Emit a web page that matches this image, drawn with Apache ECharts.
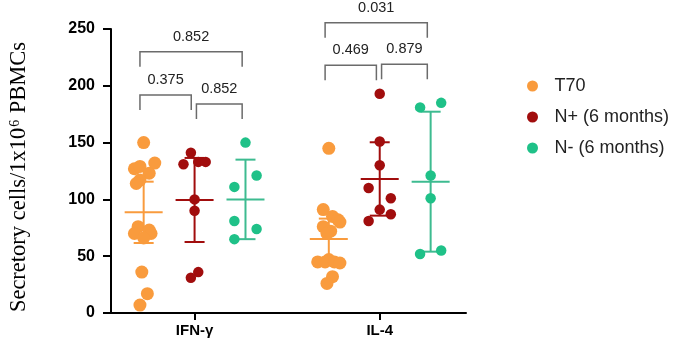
<!DOCTYPE html>
<html>
<head>
<meta charset="utf-8">
<script src="https://cdn.jsdelivr.net/npm/echarts@6/dist/echarts.min.js"></script>
<style>
  html, body { margin: 0; padding: 0; background: #fff; }
  #chart { width: 677px; height: 346px; }
</style>
</head>
<body>
<div id="chart"></div>
<script>
  // categories / groups
  const groups = ['IFN-γ', 'IL-4'];
  const seriesNames = ['T70', 'N+ (6 months)', 'N- (6 months)'];
  const yTicks = [0, 50, 100, 150, 200, 250];

  // individual values (jitter = horizontal spread, in group units)
  const t70Ifn = [150, 127, 129, 132, 123, 117, 114, 76, 73, 70, 70, 66, 36, 17, 7];
  const t70IfnJitter = [0, -0.05, -0.02, 0.06, 0.03, -0.02, -0.04, -0.03, 0.03, 0.04, -0.05, 0, -0.01, 0.02, -0.02];
  const nPosIfn = [141, 131, 133, 133, 100, 90, 36, 31];
  const nPosIfnJitter = [-0.02, -0.06, 0.02, 0.06, 0, 0, 0.02, -0.02];
  const nNegIfn = [150, 121, 111, 81, 74, 65];
  const nNegIfnJitter = [0, 0.06, -0.06, -0.06, 0.06, -0.06];

  const t70Il4 = [145, 91, 85, 82, 80, 76, 72, 70, 47, 45, 45, 45, 44, 32, 26];
  const t70Il4Jitter = [0, -0.03, 0.02, 0.05, 0.06, -0.03, 0.01, -0.01, 0, -0.06, -0.02, 0.03, 0.06, 0.02, -0.01];
  const nPosIl4 = [193, 151, 130, 110, 101, 91, 87, 81];
  const nPosIl4Jitter = [0, 0, 0, -0.06, 0.06, 0, 0.06, -0.06];
  const nNegIl4 = [181, 185, 121, 101, 52, 55];
  const nNegIl4Jitter = [-0.057, 0.057, 0, 0, -0.057, 0.057];

  // mean and 95% CI half-width per group [IFN-γ, IL-4]
  const t70Mean = [88.6, 65.1];
  const t70Err = [27, 18];
  const nPosMean = [99.5, 118];
  const nPosErr = [37, 32.3];
  const nNegMean = [100, 115.6];
  const nNegErr = [35, 61.6];

  // p values: group, pair of columns, bracket height
  const pValues = ['0.375', '0.852', '0.852', '0.469', '0.879', '0.031'];
  const pGroup = [0, 0, 0, 1, 1, 1];
  const pPairs = [[0, 1], [1, 2], [0, 2], [0, 1], [1, 2], [0, 2]];
  const pHeight = [192, 184, 230, 218, 219, 255.5];

  const colors = ['#F99B3D', '#A10D0D', '#1FC188'];
  const barColors = ['#F99B3D', '#A10D0D', '#3DBB90'];
  const colOffset = [-0.275, 0, 0.275];
  const colX = (g, c) => g + 1 + colOffset[c];

  const values = [[t70Ifn, t70Il4], [nPosIfn, nPosIl4], [nNegIfn, nNegIl4]];
  const jitters = [[t70IfnJitter, t70Il4Jitter], [nPosIfnJitter, nPosIl4Jitter], [nNegIfnJitter, nNegIl4Jitter]];
  const means = [t70Mean, nPosMean, nNegMean];
  const errs = [t70Err, nPosErr, nNegErr];
  const sizes = [13, 10.5, 10.5];

  const chart = echarts.init(document.getElementById('chart'));

  function renderBar(params, api) {
    const x = api.value(0), m = api.value(1), e = api.value(2);
    const c = api.coord([x, m]);
    const hi = api.coord([x, m + e]);
    const lo = api.coord([x, m - e]);
    const st = {stroke: api.visual('color'), lineWidth: 2};
    return {
      type: 'group',
      children: [
        {type: 'line', shape: {x1: c[0], y1: hi[1], x2: c[0], y2: lo[1]}, style: st},
        {type: 'line', shape: {x1: c[0] - 10, y1: hi[1], x2: c[0] + 10, y2: hi[1]}, style: st},
        {type: 'line', shape: {x1: c[0] - 10, y1: lo[1], x2: c[0] + 10, y2: lo[1]}, style: st},
        {type: 'line', shape: {x1: c[0] - 19, y1: c[1], x2: c[0] + 19, y2: c[1]}, style: st}
      ]
    };
  }

  function renderBracket(params, api) {
    const l = api.coord([api.value(0), api.value(2)]);
    const r = api.coord([api.value(1), api.value(2)]);
    return {
      type: 'group',
      children: [
        {
          type: 'polyline',
          shape: {points: [[l[0], l[1] + 15], [l[0], l[1]], [r[0], r[1]], [r[0], r[1] + 15]]},
          style: {stroke: '#6b6b6b', lineWidth: 1.5, fill: null}
        },
        {
          type: 'text',
          x: (l[0] + r[0]) / 2,
          y: l[1] - 15,
          style: {
            text: pValues[params.dataIndex],
            align: 'center',
            verticalAlign: 'middle',
            fill: '#222',
            fontSize: 14.5,
            fontFamily: 'Liberation Sans'
          }
        }
      ]
    };
  }

  const series = [];
  // error bars first, so the dots sit on top
  seriesNames.forEach((name, c) => {
    series.push({
      type: 'custom',
      renderItem: renderBar,
      itemStyle: {color: barColors[c]},
      z: 2,
      silent: true,
      encode: {x: 0, y: 1},
      data: groups.map((g, gi) => [colX(gi, c), means[c][gi], errs[c][gi]])
    });
  });
  seriesNames.forEach((name, c) => {
    const data = [];
    groups.forEach((g, gi) => {
      values[c][gi].forEach((v, i) => data.push([colX(gi, c) + jitters[c][gi][i], v]));
    });
    series.push({
      name: name,
      type: 'scatter',
      symbolSize: sizes[c],
      itemStyle: {color: colors[c], opacity: 1},
      z: 3,
      data: data
    });
  });
  series.push({
    type: 'custom',
    renderItem: renderBracket,
    silent: true,
    z: 4,
    encode: {x: [0, 1], y: 2},
    data: pValues.map((p, i) => [colX(pGroup[i], pPairs[i][0]) + (pPairs[i][0] === 1 ? 0.01 : -0.02),
                                 colX(pGroup[i], pPairs[i][1]) - 0.018, pHeight[i]])
  });

  chart.setOption({
    animation: false,
    grid: {left: 105, right: 211, top: 29, bottom: 33},
    legend: {
      data: seriesNames,
      orient: 'vertical',
      left: 522,
      top: 72,
      icon: 'circle',
      itemWidth: 34,
      itemHeight: 11,
      itemGap: 13,
      textStyle: {fontFamily: 'Liberation Sans', fontSize: 18, color: '#222'}
    },
    xAxis: {
      type: 'value',
      min: 0.5486,
      max: 2.466,
      splitLine: {show: false},
      axisLine: {lineStyle: {color: '#000', width: 2}},
      axisTick: {customValues: [1, 2], length: 7, lineStyle: {color: '#000', width: 2}},
      axisLabel: {
        customValues: [1, 2],
        formatter: v => groups[Math.round(v) - 1],
        margin: 10,
        color: '#000',
        fontWeight: 'bold',
        fontSize: 15,
        fontFamily: 'Liberation Sans'
      }
    },
    yAxis: {
      type: 'value',
      min: yTicks[0],
      max: yTicks[yTicks.length - 1],
      interval: 50,
      splitLine: {show: false},
      axisLine: {show: true, lineStyle: {color: '#000', width: 2}},
      axisTick: {show: true, length: 8, lineStyle: {color: '#000', width: 2}},
      axisLabel: {
        margin: 16,
        color: '#000',
        fontWeight: 'bold',
        fontSize: 16,
        fontFamily: 'Liberation Sans'
      },
      name: '{a|Secretory cells/1x10}{s|6}{a| PBMCs}',
      nameLocation: 'middle',
      nameGap: 80,
      nameTextStyle: {
        color: '#000',
        padding: [0, 12, 0, 0],
        rich: {
          a: {fontFamily: 'Liberation Serif', fontSize: 22.5, color: '#000'},
          s: {fontFamily: 'Liberation Serif', fontSize: 14, color: '#000', verticalAlign: 'top', padding: [0, 1, 9, 1]}
        }
      }
    },
    series: series
  });
</script>
</body>
</html>
